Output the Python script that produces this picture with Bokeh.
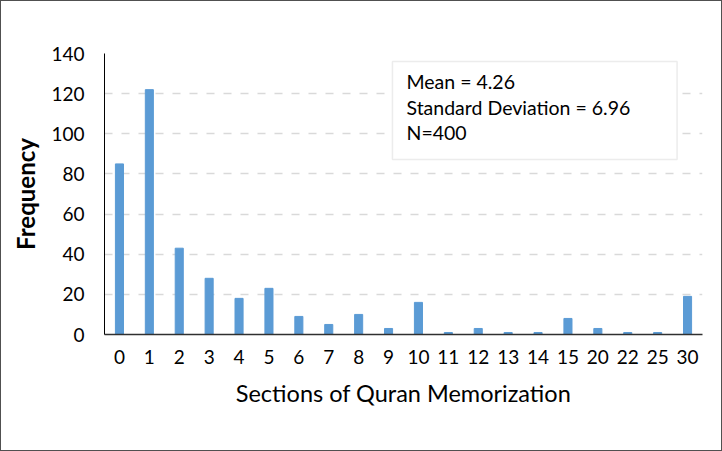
from bokeh.plotting import figure
from bokeh.models import FactorRange, Range1d, BoxAnnotation, Label, FixedTicker
from bokeh.embed import file_html
from bokeh.resources import INLINE

categories = ["0", "1", "2", "3", "4", "5", "6", "7", "8", "9", "10", "11", "12", "13", "14", "15", "20", "22", "25", "30"]
frequency = [85, 122, 43, 28, 18, 23, 9, 5, 10, 3, 16, 1, 3, 1, 1, 8, 3, 1, 1, 19]
y_ticks = [0, 20, 40, 60, 80, 100, 120, 140]
stats_lines = ["Mean = 4.26", "Standard Deviation = 6.96", "N=400"]

FONT = "Lato"

p = figure(width=722, height=451, x_range=FactorRange(*categories), y_range=Range1d(0, 140),
           output_backend="svg", toolbar_location=None,
           min_border_left=103, min_border_right=21, min_border_top=52, min_border_bottom=118)
p.styles = {"border": "1px solid #505050", "box-sizing": "border-box"}
p.x_range.range_padding = 0
p.outline_line_color = None

p.vbar(x=categories, top=frequency, width=0.27, fill_color="#5B9BD5", line_color="#5B9BD5")

p.xgrid.grid_line_color = None
p.ygrid.grid_line_color = "#d9d9d9"
p.ygrid.grid_line_dash = "8 9"
p.ygrid.grid_line_width = 1.5

p.yaxis.ticker = FixedTicker(ticks=y_ticks)
for ax in (p.xaxis, p.yaxis):
    ax.major_tick_line_color = None
    ax.minor_tick_line_color = None
    ax.major_label_text_font = FONT
    ax.major_label_text_font_size = "19px"
    ax.major_label_text_color = "#000000"
    ax.axis_label_text_font = FONT
    ax.axis_label_text_color = "#000000"
    ax.axis_label_text_font_style = "normal"
p.yaxis.axis_line_color = "#000000"
p.xaxis.axis_line_color = "#303030"
p.xaxis.axis_line_width = 1.5
p.yaxis.major_label_standoff = 14
p.xaxis.major_label_standoff = 9

p.yaxis.axis_label = "Frequency"
p.yaxis.axis_label_text_font_size = "24px"
p.yaxis.axis_label_text_font_style = "bold"
p.yaxis.axis_label_standoff = 8

p.xaxis.axis_label = "Sections of Quran Memorization"
p.xaxis.axis_label_text_font_size = "23.5px"
p.xaxis.axis_label_standoff = 12

box = BoxAnnotation(left=9.63, right=19.15, top=136.0, bottom=87.2,
                    fill_color="white", fill_alpha=1.0,
                    line_color="#bfbfbf", line_width=1.5, level="overlay")
p.add_layout(box)

for txt, yy in zip(stats_lines, [126.0, 113.2, 100.8]):
    p.add_layout(Label(x=10.1, y=yy, text=txt, text_font=FONT, text_font_size="19.5px",
                       text_color="#000000", text_baseline="middle", level="overlay"))

open("out.html", "w").write(file_html(p, INLINE))
